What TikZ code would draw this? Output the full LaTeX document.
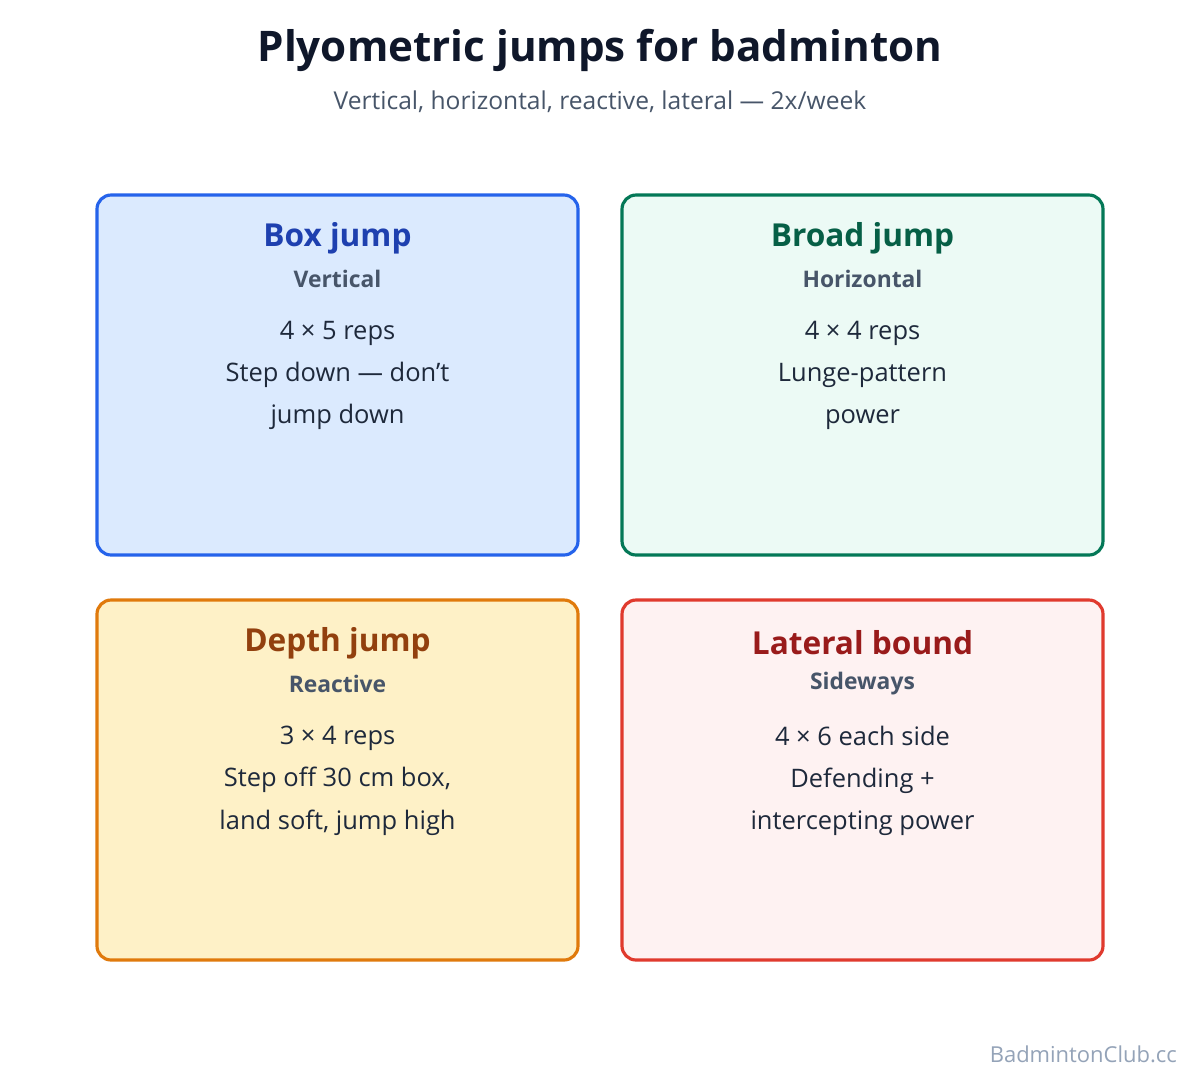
\documentclass[tikz,border=0pt]{standalone}
\usepackage{fontspec}
\setmainfont{Open Sans}
\definecolor{tblue}{HTML}{2563EB}\definecolor{fblue}{HTML}{DBEAFE}\definecolor{hblue}{HTML}{1E40AF}
\definecolor{tgreen}{HTML}{047857}\definecolor{fgreen}{HTML}{ECFAF5}\definecolor{hgreen}{HTML}{065F46}
\definecolor{torange}{HTML}{E07A0C}\definecolor{forange}{HTML}{FEF1C7}\definecolor{horange}{HTML}{92400E}
\definecolor{tred}{HTML}{E03A2E}\definecolor{fred}{HTML}{FEF2F2}\definecolor{hred}{HTML}{991B1B}
\definecolor{subgray}{HTML}{475569}\definecolor{bodyc}{HTML}{1E293B}\definecolor{titlec}{HTML}{0F172A}
\definecolor{credit}{HTML}{94A3B8}
\tikzset{
 card/.style={draw, line width=1.8pt, rounded corners=8pt},
 ctitle/.style={font=\fontsize{18}{22}\selectfont\bfseries, anchor=center},
 csub/.style={font=\fontsize{13}{16}\selectfont\bfseries, text=subgray, anchor=center},
 cbody/.style={font=\fontsize{14.5}{24}\selectfont, text=bodyc, align=center, anchor=north},
}
\begin{document}
\begin{tikzpicture}[x=0.02cm,y=-0.02cm]
\useasboundingbox[fill=white] (0,0) rectangle (1200,1080);
\node[font=\fontsize{24}{28}\selectfont\bfseries, text=titlec] (title) at (600,50) {Plyometric jumps for badminton};
\node[font=\fontsize{14}{17}\selectfont, text=subgray] (sub) at (600,102) {Vertical, horizontal, reactive, lateral — 2x/week};
\newcommand{\cardbox}[8]{%
 \draw[card, draw=#3, fill=#4] (#1,#2) rectangle ++(481,360);
 \node[ctitle, text=#5] at (#1+240.5,#2+43) {#6};
 \node[csub] at (#1+240.5,#2+84) {#7};
 \node[cbody] at (#1+240.5,#2+120) {#8};}
\cardbox{97}{195}{tblue}{fblue}{hblue}{Box jump}{Vertical}{4 × 5 reps\\Step down — don't\\jump down}
\cardbox{622}{195}{tgreen}{fgreen}{hgreen}{Broad jump}{Horizontal}{4 × 4 reps\\Lunge-pattern\\power}
\cardbox{97}{600}{torange}{forange}{horange}{Depth jump}{Reactive}{3 × 4 reps\\Step off 30 cm box,\\land soft, jump high}
\cardbox{622}{600}{tred}{fred}{hred}{Lateral bound}{Sideways}{4 × 6 each side\\Defending +\\intercepting power}
\node[font=\fontsize{12.5}{15}\selectfont, text=credit, anchor=east] (credit) at (1183,1054) {BadmintonClub.cc};
\end{tikzpicture}
\end{document}
